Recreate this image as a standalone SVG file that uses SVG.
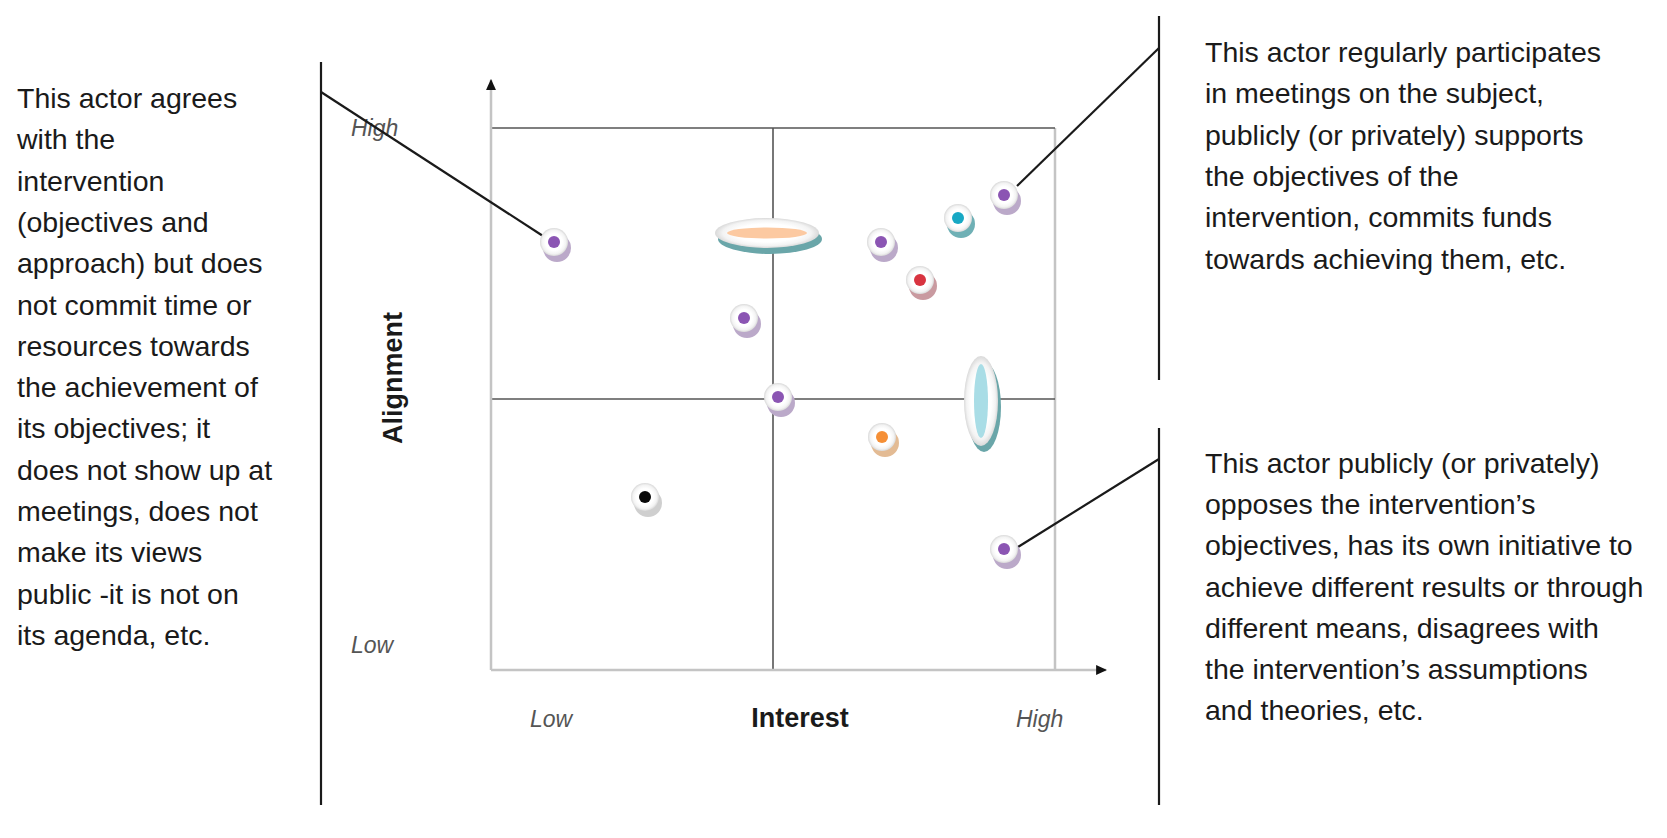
<svg xmlns="http://www.w3.org/2000/svg" width="1667" height="838" viewBox="0 0 1667 838">
<defs>
<radialGradient id="disc" cx="0.5" cy="0.5" r="0.5">
<stop offset="0" stop-color="#ffffff"/>
<stop offset="0.6" stop-color="#ffffff"/>
<stop offset="0.85" stop-color="#f3f3f3"/>
<stop offset="1" stop-color="#d9d9d9"/>
</radialGradient>
<marker id="arr" viewBox="0 0 10 10" refX="9" refY="5" markerWidth="11" markerHeight="11" orient="auto-start-reverse" markerUnits="userSpaceOnUse">
<path d="M0,0.5 L10,5 L0,9.5 Z" fill="#111"/>
</marker>
</defs>
<style>
.body{font-family:"Liberation Sans",Arial,sans-serif;font-size:28.5px;fill:#1a1a1a}
.tick{font-family:"Liberation Sans",Arial,sans-serif;font-size:23px;font-style:italic;fill:#555}
.axis{font-family:"Liberation Sans",Arial,sans-serif;font-size:27px;font-weight:bold;fill:#1a1a1a}
.grid{stroke:#555;stroke-width:1.6;fill:none}
.light{stroke:#c4c4c4;stroke-width:2.5;fill:none}
.lead{stroke:#1a1a1a;stroke-width:2.2;fill:none}
.disc{fill:url(#disc)}
.sh-p{fill:#bba9c9}.sh-c{fill:#6fb0b5}.sh-r{fill:#c99aa0}.sh-o{fill:#e3bb94}.sh-k{fill:#cfcfcf}
.c-p{fill:#8b55b3}.c-c{fill:#17a8c4}.c-r{fill:#d8333f}.c-o{fill:#f58f36}.c-k{fill:#0a0a0a}
</style>
<g id="axes">
<line class="light" x1="1055" y1="128" x2="1055" y2="670" stroke="#dadada"/>
<line class="grid" x1="491" y1="128" x2="1055" y2="128"/>
<line class="grid" x1="491" y1="399" x2="1055" y2="399"/>
<line class="grid" x1="773" y1="128" x2="773" y2="670"/>
<line class="light" x1="491" y1="670" x2="491" y2="80" marker-end="url(#arr)"/>
<line class="light" x1="491" y1="670" x2="1106" y2="670" marker-end="url(#arr)"/>
<text class="tick" x="351" y="136">High</text>
<text class="tick" x="351" y="653">Low</text>
<text class="tick" x="530" y="727">Low</text>
<text class="tick" x="1016" y="727">High</text>
<text class="axis" x="800" y="727" text-anchor="middle">Interest</text>
<text class="axis" transform="translate(402,378) rotate(-90)" text-anchor="middle">Alignment</text>
</g>
<g id="connectors">
<line class="lead" x1="321" y1="62" x2="321" y2="805"/>
<line class="lead" x1="321" y1="92" x2="543" y2="236"/>
<line class="lead" x1="1159" y1="16" x2="1159" y2="380"/>
<line class="lead" x1="1159" y1="48" x2="1017" y2="186"/>
<line class="lead" x1="1159" y1="428" x2="1159" y2="805"/>
<line class="lead" x1="1159" y1="459" x2="1018" y2="547"/>
</g>
<g id="ellipse-orange">
<ellipse cx="770" cy="239" rx="52" ry="15" fill="#6aa6a9"/>
<ellipse cx="767" cy="233" rx="52" ry="15" class="disc"/>
<ellipse cx="767" cy="233" rx="40" ry="5.5" fill="#fcc9a1"/>
</g>
<g id="ellipse-cyan">
<ellipse cx="984" cy="407" rx="17" ry="45" fill="#6aa6a9"/>
<ellipse cx="981" cy="401" rx="17" ry="45" class="disc"/>
<ellipse cx="981" cy="401" rx="7" ry="37" fill="#a9dde6"/>
</g>
<g id="dot1"><circle cx="557" cy="248" r="14" class="sh-p"/><circle cx="554" cy="242" r="14" class="disc"/><circle cx="554" cy="242" r="6" class="c-p"/></g>
<g id="dot2"><circle cx="884" cy="248" r="14" class="sh-p"/><circle cx="881" cy="242" r="14" class="disc"/><circle cx="881" cy="242" r="6" class="c-p"/></g>
<g id="dot3"><circle cx="961" cy="224" r="14" class="sh-c"/><circle cx="958" cy="218" r="14" class="disc"/><circle cx="958" cy="218" r="6" class="c-c"/></g>
<g id="dot4"><circle cx="1007" cy="201" r="14" class="sh-p"/><circle cx="1004" cy="195" r="14" class="disc"/><circle cx="1004" cy="195" r="6" class="c-p"/></g>
<g id="dot5"><circle cx="923" cy="286" r="14" class="sh-r"/><circle cx="920" cy="280" r="14" class="disc"/><circle cx="920" cy="280" r="6" class="c-r"/></g>
<g id="dot6"><circle cx="747" cy="324" r="14" class="sh-p"/><circle cx="744" cy="318" r="14" class="disc"/><circle cx="744" cy="318" r="6" class="c-p"/></g>
<g id="dot7"><circle cx="781" cy="403" r="14" class="sh-p"/><circle cx="778" cy="397" r="14" class="disc"/><circle cx="778" cy="397" r="6" class="c-p"/></g>
<g id="dot8"><circle cx="885" cy="443" r="14" class="sh-o"/><circle cx="882" cy="437" r="14" class="disc"/><circle cx="882" cy="437" r="6" class="c-o"/></g>
<g id="dot9"><circle cx="648" cy="503" r="14" class="sh-k"/><circle cx="645" cy="497" r="14" class="disc"/><circle cx="645" cy="497" r="6" class="c-k"/></g>
<g id="dot10"><circle cx="1007" cy="555" r="14" class="sh-p"/><circle cx="1004" cy="549" r="14" class="disc"/><circle cx="1004" cy="549" r="6" class="c-p"/></g>
<g id="text-left">
<text class="body" x="17" y="108">This actor agrees</text>
<text class="body" x="17" y="149.3">with the</text>
<text class="body" x="17" y="190.6">intervention</text>
<text class="body" x="17" y="231.9">(objectives and</text>
<text class="body" x="17" y="273.2">approach) but does</text>
<text class="body" x="17" y="314.5">not commit time or</text>
<text class="body" x="17" y="355.8">resources towards</text>
<text class="body" x="17" y="397.1">the achievement of</text>
<text class="body" x="17" y="438.4">its objectives; it</text>
<text class="body" x="17" y="479.7">does not show up at</text>
<text class="body" x="17" y="521">meetings, does not</text>
<text class="body" x="17" y="562.3">make its views</text>
<text class="body" x="17" y="603.6">public -it is not on</text>
<text class="body" x="17" y="644.9">its agenda, etc.</text>
</g>
<g id="text-top-right">
<text class="body" x="1205" y="62">This actor regularly participates</text>
<text class="body" x="1205" y="103.3">in meetings on the subject,</text>
<text class="body" x="1205" y="144.6">publicly (or privately) supports</text>
<text class="body" x="1205" y="185.9">the objectives of the</text>
<text class="body" x="1205" y="227.2">intervention, commits funds</text>
<text class="body" x="1205" y="268.5">towards achieving them, etc.</text>
</g>
<g id="text-bottom-right">
<text class="body" x="1205" y="473">This actor publicly (or privately)</text>
<text class="body" x="1205" y="514.2">opposes the intervention’s</text>
<text class="body" x="1205" y="555.4">objectives, has its own initiative to</text>
<text class="body" x="1205" y="596.6">achieve different results or through</text>
<text class="body" x="1205" y="637.8">different means, disagrees with</text>
<text class="body" x="1205" y="679">the intervention’s assumptions</text>
<text class="body" x="1205" y="720.2">and theories, etc.</text>
</g>
</svg>
